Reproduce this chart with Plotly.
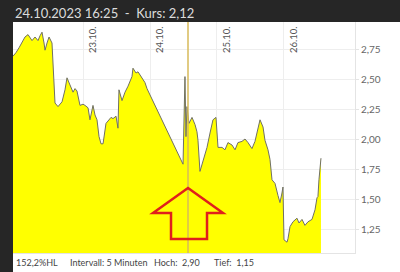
import plotly.graph_objects as go

# x positions in trading-day units (1 = 23.10., 2 = 24.10., ...)
pos = [-0.045, 0.0, 0.045, 0.09, 0.134, 0.179, 0.209, 0.239, 0.284, 0.328, 0.358, 0.388,
       0.418, 0.433, 0.463, 0.493, 0.537, 0.552, 0.582, 0.627, 0.657, 0.687, 0.731, 0.761,
       0.806, 0.851, 0.881, 0.910, 0.955, 1.0, 1.03, 1.075, 1.104, 1.149, 1.179, 1.209,
       1.239, 1.269, 1.299, 1.343, 1.373, 1.418, 1.448, 1.493, 1.522, 1.537, 1.582, 1.627,
       1.672, 1.731, 1.746, 1.791, 1.821, 1.881, 1.925, 1.955,
       2.493, 2.522, 2.537, 2.552, 2.582, 2.627, 2.672, 2.701, 2.716, 2.746, 2.791, 2.851,
       2.896, 2.940, 2.985, 3.0, 3.015, 3.075, 3.119, 3.164, 3.224, 3.269, 3.313, 3.373,
       3.418, 3.463, 3.522, 3.567, 3.612, 3.642, 3.687, 3.716, 3.761, 3.791, 3.821, 3.866,
       3.910, 3.940, 3.970, 3.985, 4.0, 4.045, 4.060, 4.090, 4.134, 4.194, 4.224, 4.269,
       4.313, 4.358, 4.418, 4.463, 4.493, 4.507, 4.522, 4.552]
kurs = [2.69, 2.72, 2.76, 2.80, 2.85, 2.87, 2.84, 2.82, 2.85, 2.82, 2.86, 2.89,
        2.80, 2.74, 2.80, 2.85, 2.80, 2.66, 2.30, 2.27, 2.29, 2.31, 2.41, 2.51,
        2.45, 2.39, 2.42, 2.40, 2.28, 2.29, 2.28, 2.26, 2.16, 2.28, 2.20, 2.16,
        2.02, 1.96, 1.96, 2.13, 2.15, 2.18, 2.17, 2.19, 2.09, 2.41, 2.32, 2.39,
        2.44, 2.52, 2.59, 2.55, 2.56, 2.51, 2.47, 2.42,
        1.79, 2.52, 2.02, 2.27, 2.13, 2.18, 2.12, 2.06, 1.99, 1.73, 1.82, 1.93,
        2.05, 2.16, 2.18, 2.07, 1.93, 1.93, 1.91, 1.97, 1.95, 1.91, 1.97, 1.98,
        2.00, 1.97, 1.92, 1.98, 2.10, 2.16, 2.10, 1.99, 1.91, 1.83, 1.66, 1.63,
        1.53, 1.47, 1.55, 1.60, 1.16, 1.14, 1.17, 1.27, 1.31, 1.34, 1.30, 1.33,
        1.28, 1.31, 1.33, 1.41, 1.51, 1.52, 1.66, 1.84]

day_pos = [1, 2, 3, 4]
day_labels = ["23.10.", "24.10.", "25.10.", "26.10."]
y_ticks = [1.25, 1.50, 1.75, 2.00, 2.25, 2.50, 2.75]
y_labels = ["1,25", "1,50", "1,75", "2,00", "2,25", "2,50", "2,75"]
marker_pos = 2.567
title_text = "24.10.2023 16:25  -  Kurs: 2,12"
footer = [("152,2%HL", 14), ("Intervall: 5 Minuten", 68), ("Hoch:  2,90", 152), ("Tief:  1,15", 212)]

W, H = 400, 272
L, R, T, B = 13, 45, 22, 19
pw, ph = W - L - R, H - T - B
FONT = "Lato"


def px(X):
    return (X - L) / pw


def py(Y):
    return (H - B - Y) / ph


fig = go.Figure()
fig.add_trace(go.Scatter(x=pos, y=kurs, mode="lines", fill="tozeroy",
                         fillcolor="#ffff00", line=dict(color="#707064", width=1),
                         hoverinfo="skip"))

shapes = []
# dark frame
shapes.append(dict(type="rect", xref="paper", yref="paper", x0=px(0), x1=px(W),
                   y0=py(T), y1=py(0), fillcolor="#262626", line=dict(width=0), layer="above"))
shapes.append(dict(type="rect", xref="paper", yref="paper", x0=px(0), x1=px(L),
                   y0=py(H), y1=py(0), fillcolor="#262626", line=dict(width=0), layer="above"))
# time marker
shapes.append(dict(type="line", xref="x", yref="paper", x0=marker_pos, x1=marker_pos,
                   y0=0, y1=1, line=dict(color="rgba(215,185,90,0.75)", width=2)))
# red arrow
pts = [(188, 188), (223, 213), (207, 213), (207, 239), (171, 239), (171, 213), (153, 213)]
path = "M " + " L ".join(f"{px(a):.4f},{py(b):.4f}" for a, b in pts) + " Z"
shapes.append(dict(type="path", xref="paper", yref="paper", path=path,
                   line=dict(color="#e0201c", width=2.5), fillcolor="rgba(0,0,0,0)"))

annotations = [dict(text=title_text, xref="paper", yref="paper", x=px(13), y=py(12.5),
                    xanchor="left", yanchor="middle", showarrow=False,
                    font=dict(family=FONT, size=13, color="#dcdcdc"))]
for lab, X in footer:
    annotations.append(dict(text=lab, xref="paper", yref="paper", x=px(X), y=py(262),
                            xanchor="left", yanchor="middle", showarrow=False,
                            font=dict(family=FONT, size=9, color="#444")))
for d, lab in zip(day_pos, day_labels):
    annotations.append(dict(text=lab, xref="x", yref="paper", x=d, y=1, xshift=2, yshift=-2,
                            xanchor="left", yanchor="top", textangle=-90, showarrow=False,
                            font=dict(family=FONT, size=9.5, color="#555")))

fig.update_layout(
    width=W, height=H, margin=dict(l=L, r=R, t=T, b=B),
    paper_bgcolor="white", plot_bgcolor="white", showlegend=False,
    shapes=shapes, annotations=annotations,
    xaxis=dict(range=[-0.045, 5.06], tickvals=day_pos, showticklabels=False,
               showgrid=True, gridcolor="#eeeeee", gridwidth=1, zeroline=False,
               showline=True, linecolor="#e4e4e4", ticks=""),
    yaxis=dict(range=[1.05, 2.975], side="right", tickvals=y_ticks, ticktext=y_labels,
               showgrid=True, gridcolor="#eeeeee", zeroline=False, showline=True,
               linecolor="#e4e4e4", ticks="outside", ticklen=3, tickcolor="#e4e4e4",
               tickfont=dict(family=FONT, size=10, color="#666")),
)
fig.write_html("out.html")
